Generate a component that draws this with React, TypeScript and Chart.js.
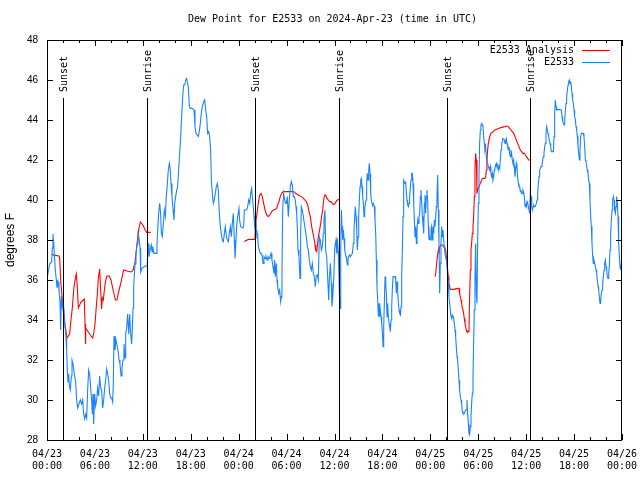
import React, { useEffect, useRef } from "react";
import { Chart, registerables } from "chart.js";

Chart.register(...registerables);

const MONO = '"DejaVu Sans Mono", "Liberation Mono", monospace';
const SANS = '"Liberation Sans", Arial, sans-serif';

const chartTitle = "Dew Point for E2533 on 2024-Apr-23 (time in UTC)";
const yAxisTitle = "degrees F";
const seriesNames = ["E2533 Analysis", "E2533"];
const seriesColors = ["#ff0000", "#1a84ff"];

const xTickLabels = [
  ["04/23", "00:00"], ["04/23", "06:00"], ["04/23", "12:00"], ["04/23", "18:00"],
  ["04/24", "00:00"], ["04/24", "06:00"], ["04/24", "12:00"], ["04/24", "18:00"],
  ["04/25", "00:00"], ["04/25", "06:00"], ["04/25", "12:00"], ["04/25", "18:00"],
  ["04/26", "00:00"],
];

// hours since 04/23 00:00 UTC
const sunEventHours = [2.05, 12.56, 26.1, 36.6, 50.12, 60.52];
const sunEventLabels = ["Sunset", "Sunrise", "Sunset", "Sunrise", "Sunset", "Sunrise"];
const sunLineTopF = 45.1;

// Station observations [hour, dew point F]
const stationDay1 = [
  [0.0, 36.05], [0.33, 36.8], [0.58, 36.9], [0.67, 37.6], [0.75, 38.3], [0.83, 37.9], [0.92, 37.3],
  [1.04, 36.5], [1.17, 36.0], [1.25, 35.6], [1.38, 35.9], [1.5, 35.5], [1.63, 34.9], [1.71, 33.5],
  [1.79, 35.2], [1.92, 34.6], [2.05, 34.9], [2.17, 34.0], [2.3, 33.5], [2.38, 33.1], [2.46, 32.5],
  [2.55, 31.4], [2.63, 30.9], [2.71, 31.3], [2.8, 30.7], [2.92, 30.5], [3.05, 31.2], [3.13, 32.0],
  [3.26, 31.8], [3.42, 31.3], [3.59, 30.9], [3.71, 30.0], [3.84, 29.6], [4.0, 29.8], [4.17, 30.0],
  [4.34, 29.8], [4.47, 30.0], [4.59, 29.3], [4.72, 29.05], [4.84, 29.3], [4.97, 29.1], [5.09, 30.5],
  [5.22, 31.5], [5.34, 31.3], [5.47, 30.6], [5.59, 30.0], [5.68, 29.3], [5.76, 30.3], [5.84, 28.8],
  [5.97, 30.3], [6.09, 29.7], [6.22, 30.0], [6.34, 30.6], [6.47, 30.2], [6.59, 31.2], [6.72, 30.6],
  [6.84, 30.5], [6.97, 29.6], [7.1, 30.0], [7.22, 30.6], [7.35, 31.0], [7.47, 31.55], [7.6, 31.3],
  [7.72, 31.0], [7.85, 30.3], [7.97, 30.1], [8.1, 30.1], [8.22, 29.9], [8.3, 30.8], [8.39, 33.2],
  [8.51, 32.5], [8.64, 33.0], [8.76, 33.0], [8.89, 32.5], [9.02, 32.0], [9.14, 31.8], [9.27, 31.2],
  [9.39, 31.6], [9.52, 32.0], [9.64, 32.8], [9.77, 32.1], [9.85, 33.3], [9.97, 33.6], [10.1, 34.3],
  [10.23, 33.3], [10.35, 34.3], [10.48, 33.3], [10.6, 32.8], [10.68, 33.5], [10.77, 34.6], [10.85, 35.6],
  [10.94, 36.3], [11.02, 36.8], [11.14, 37.3], [11.27, 37.8], [11.39, 38.3], [11.52, 38.1], [11.65, 37.6],
  [11.73, 36.4], [11.9, 36.6], [12.3, 36.7], [12.55, 36.7], [12.65, 37.83], [12.77, 37.17], [12.9, 37.5],
  [13.06, 37.75], [13.15, 37.4], [13.23, 37.67], [13.4, 37.33], [13.65, 37.33], [13.77, 37.75], [13.86, 38.5],
  [13.98, 39.33], [14.11, 39.83], [14.23, 39.33], [14.32, 38.33], [14.44, 38.17], [14.57, 38.83], [14.69, 39.5],
  [14.82, 39.17], [14.94, 40.17], [15.07, 40.83], [15.19, 41.5], [15.32, 41.83], [15.44, 41.5], [15.53, 40.83],
  [15.65, 40.17], [15.78, 39.5], [15.9, 39.0], [15.99, 39.83], [16.11, 40.17], [16.24, 40.5], [16.36, 40.67],
  [16.49, 41.5], [16.61, 42.33], [16.74, 43.17], [16.86, 44.17], [16.99, 45.17], [17.11, 45.75], [17.24, 45.75],
  [17.36, 46.0], [17.49, 46.08], [17.57, 45.9], [17.7, 45.67], [17.82, 44.67], [17.95, 44.58], [18.2, 44.58],
  [18.41, 44.5], [18.53, 43.67], [18.66, 43.33], [18.82, 43.25], [18.95, 43.17], [19.07, 43.42], [19.2, 43.83],
  [19.32, 44.33], [19.45, 44.67], [19.62, 44.92], [19.74, 45.0], [19.87, 44.5], [19.99, 44.17], [20.12, 43.33],
  [20.24, 43.42], [20.37, 43.17], [20.49, 42.5], [20.58, 41.0], [20.7, 40.33], [20.83, 39.83], [20.95, 40.0],
  [21.08, 40.33], [21.2, 40.67], [21.33, 40.83], [21.45, 40.5], [21.58, 39.33], [21.7, 38.67], [21.83, 38.33],
  [21.95, 38.0], [22.08, 37.92], [22.21, 38.33], [22.33, 38.67], [22.46, 38.17], [22.58, 38.0], [22.71, 37.92],
  [22.83, 38.33], [22.96, 38.67], [23.08, 38.17], [23.21, 38.83], [23.33, 39.33], [23.46, 38.0], [23.54, 37.08],
];

const stationDay2 = [
  [23.75, 38.67], [23.87, 39.17], [24.04, 39.58], [24.12, 39.0], [24.25, 38.67], [24.54, 38.6], [24.63, 38.75],
  [24.71, 39.5], [25.0, 39.5], [25.13, 39.67], [25.25, 40.0], [25.38, 39.83], [25.5, 40.33], [25.63, 40.58],
  [25.71, 40.17], [25.84, 39.67], [25.92, 39.17], [26.0, 38.67], [26.13, 38.92], [26.21, 38.5], [26.29, 38.17],
  [26.38, 38.25], [26.46, 37.67], [26.59, 37.5], [26.71, 37.33], [26.84, 37.33], [26.96, 37.17], [27.05, 36.83],
  [27.17, 37.17], [27.3, 37.08], [27.42, 37.17], [27.55, 37.0], [27.67, 37.17], [27.8, 37.08], [27.92, 37.17],
  [28.05, 37.33], [28.17, 37.0], [28.3, 36.67], [28.42, 36.33], [28.51, 37.0], [28.59, 36.17], [28.72, 36.83],
  [28.8, 36.0], [28.88, 35.67], [29.01, 35.33], [29.13, 35.5], [29.26, 34.92], [29.34, 35.17], [29.42, 36.33],
  [29.51, 39.5], [29.63, 40.33], [29.76, 40.0], [29.88, 39.83], [29.97, 39.83], [30.09, 40.17], [30.22, 39.17],
  [30.34, 40.0], [30.47, 40.67], [30.59, 40.92], [30.72, 40.75], [30.84, 40.17], [30.97, 40.17], [31.09, 40.0],
  [31.18, 39.67], [31.26, 39.33], [31.34, 38.67], [31.43, 37.5], [31.55, 37.17], [31.68, 36.08], [31.76, 38.33],
  [31.85, 39.67], [31.97, 39.5], [32.1, 39.17], [32.22, 38.83], [32.35, 38.5], [32.47, 38.17], [32.6, 37.67],
  [32.72, 37.5], [32.85, 37.0], [32.97, 36.67], [33.1, 36.5], [33.22, 36.83], [33.35, 36.33], [33.47, 36.17],
  [33.6, 35.67], [33.72, 36.25], [33.85, 36.25], [33.97, 36.0], [34.1, 38.17], [34.22, 38.0], [34.35, 37.5],
  [34.47, 37.67], [34.6, 38.33], [34.68, 39.0], [34.81, 39.5], [34.89, 37.5], [35.02, 37.17], [35.14, 36.17],
  [35.27, 35.0], [35.35, 36.0], [35.48, 36.83], [35.6, 35.83], [35.68, 34.67], [35.81, 35.33], [35.93, 36.33],
  [36.02, 37.5], [36.11, 37.83], [36.19, 38.0], [36.27, 37.33], [36.36, 38.08], [36.44, 37.5], [36.53, 36.67],
  [36.61, 35.33], [36.69, 34.58], [36.78, 37.5], [36.86, 39.5], [36.94, 38.67], [37.03, 38.0], [37.11, 38.5],
  [37.19, 38.08], [37.28, 37.5], [37.36, 37.33], [37.44, 37.17], [37.53, 37.0], [37.61, 36.75], [37.69, 37.0],
  [37.78, 37.17], [37.86, 37.25], [37.99, 37.17], [38.11, 37.25], [38.24, 37.33], [38.36, 37.83], [38.44, 38.5],
  [38.53, 39.17], [38.61, 39.67], [38.7, 39.17], [38.78, 38.5], [38.86, 37.5], [38.95, 38.17], [39.03, 39.17],
  [39.11, 40.0], [39.2, 40.67], [39.28, 41.0], [39.36, 41.08], [39.45, 40.67], [39.53, 40.17], [39.61, 39.83],
  [39.7, 39.17], [39.78, 39.5], [39.86, 39.83], [39.95, 40.0], [40.03, 40.83], [40.11, 41.33], [40.2, 41.0],
  [40.28, 41.5], [40.36, 41.83], [40.45, 41.33], [40.53, 40.33], [40.61, 40.0], [40.7, 39.83], [40.78, 39.75],
  [40.87, 39.83], [40.99, 39.67], [41.07, 39.0], [41.16, 38.33], [41.24, 37.0], [41.32, 35.67], [41.41, 35.0],
  [41.49, 34.17], [41.58, 34.83], [41.66, 34.17], [41.74, 34.5], [41.83, 34.17], [41.91, 33.83], [41.99, 33.42],
  [42.08, 32.67], [42.16, 33.67], [42.24, 34.83], [42.33, 36.17], [42.41, 35.83], [42.49, 35.33], [42.58, 34.17],
  [42.66, 34.83], [42.74, 34.17], [42.83, 33.83], [42.91, 33.67], [42.99, 33.42], [43.08, 34.0], [43.16, 34.67],
  [43.24, 35.5], [43.33, 36.17], [43.58, 36.17], [43.66, 36.0], [43.75, 35.33], [43.83, 35.92], [43.91, 35.5],
  [44.0, 34.83], [44.08, 34.5], [44.16, 34.33], [44.25, 34.25], [44.33, 34.67], [44.41, 36.17], [44.5, 37.5],
  [44.58, 39.17], [44.66, 41.0], [44.83, 40.83], [44.91, 40.92], [45.0, 40.33], [45.08, 40.0], [45.16, 39.75],
  [45.25, 39.67], [45.33, 39.83], [45.41, 40.17], [45.5, 40.67], [45.58, 41.0], [45.67, 41.33], [45.75, 41.33],
  [45.83, 40.83], [45.92, 39.83], [46.0, 39.0], [46.08, 38.17], [46.17, 38.67], [46.25, 37.83], [46.33, 38.5],
  [46.42, 39.0], [46.5, 38.83], [46.58, 39.17], [46.67, 39.33], [46.75, 40.17], [46.83, 40.5], [46.92, 39.83],
  [47.0, 39.17], [47.08, 38.83], [47.17, 38.33], [47.25, 39.83], [47.33, 40.25],
];

const stationDay3 = [
  [47.41, 39.33], [47.5, 40.17], [47.58, 40.5], [47.66, 40.0], [47.75, 38.67], [47.83, 38.0], [47.91, 38.17],
  [48.0, 38.0], [48.08, 38.5], [48.16, 38.67], [48.25, 38.0], [48.33, 38.67], [48.42, 38.33], [48.5, 39.0],
  [48.58, 38.67], [48.67, 39.17], [48.75, 39.67], [48.83, 40.17], [48.92, 41.25], [49.0, 39.5], [49.08, 37.83],
  [49.17, 35.33], [49.25, 36.83], [49.33, 37.83], [49.42, 38.67], [49.5, 38.17], [49.58, 38.5], [49.67, 38.0],
  [49.75, 37.67], [49.83, 37.33], [49.92, 37.17], [50.0, 37.0], [50.08, 36.83], [50.17, 36.17], [50.25, 35.83],
  [50.33, 35.17], [50.42, 34.83], [50.5, 34.5], [50.59, 34.17], [50.67, 34.08], [50.75, 34.25], [50.84, 34.17],
  [50.92, 34.08], [51.0, 33.83], [51.09, 33.5], [51.17, 33.17], [51.25, 32.67], [51.34, 32.17], [51.42, 32.0],
  [51.5, 31.5], [51.59, 31.0], [51.67, 30.5], [51.75, 30.17], [51.84, 30.0], [51.92, 29.83], [52.0, 29.42],
  [52.09, 29.33], [52.25, 29.33], [52.42, 29.5], [52.5, 29.5], [52.59, 30.0], [52.67, 29.33], [52.76, 28.83],
  [52.84, 28.33], [52.92, 28.25], [53.01, 28.67], [53.09, 29.17], [53.17, 29.83], [53.26, 30.33], [53.34, 31.17],
  [53.42, 32.83], [53.51, 34.5], [53.59, 36.17], [53.67, 37.83], [53.76, 35.33], [53.84, 34.83], [53.92, 37.83],
  [54.01, 39.83], [54.09, 41.17], [54.17, 42.83], [54.26, 43.5], [54.34, 43.75], [54.43, 43.83], [54.51, 43.75],
  [54.59, 43.67], [54.68, 43.17], [54.76, 42.83], [54.84, 42.5], [54.93, 42.67], [55.01, 42.17], [55.09, 41.92],
  [55.18, 41.83], [55.26, 41.67], [55.34, 41.58], [55.43, 41.5], [55.51, 41.67], [55.59, 41.33], [55.68, 41.17],
  [55.76, 41.33], [55.84, 41.0], [55.93, 41.17], [56.01, 41.5], [56.09, 41.58], [56.18, 41.75], [56.26, 41.83],
  [56.34, 41.67], [56.43, 41.75], [56.51, 41.5], [56.6, 41.67], [56.68, 41.58], [56.76, 42.0], [56.85, 42.5],
  [56.93, 42.83], [57.01, 42.92], [57.1, 43.08], [57.18, 43.08], [57.26, 43.0], [57.35, 42.83], [57.43, 43.0],
  [57.51, 43.08], [57.6, 42.83], [57.68, 42.67], [57.76, 42.5], [57.85, 42.67], [57.93, 42.33], [58.01, 42.17],
  [58.1, 42.5], [58.18, 42.33], [58.26, 42.0], [58.35, 41.83], [58.43, 42.0], [58.52, 41.67], [58.6, 41.17],
  [58.68, 41.5], [58.77, 41.83], [58.85, 41.67], [58.93, 41.17], [59.02, 40.83], [59.1, 40.67], [59.18, 40.67],
  [59.27, 40.42], [59.35, 40.5], [59.43, 40.33], [59.52, 40.33], [59.6, 40.5], [59.68, 40.42], [59.77, 40.17],
  [59.86, 39.67], [59.94, 39.83], [60.02, 39.67], [60.11, 39.92], [60.19, 39.83], [60.27, 39.67], [60.36, 39.5],
  [60.44, 39.33], [60.52, 40.33], [60.61, 40.17], [60.69, 39.67], [60.77, 39.5], [60.86, 39.67], [60.94, 39.75],
  [61.02, 39.67], [61.15, 39.67], [61.27, 39.83], [61.36, 40.0], [61.44, 40.33], [61.53, 40.83], [61.61, 41.17],
  [61.69, 41.5], [61.78, 41.58], [61.86, 41.67], [61.98, 41.75], [62.07, 42.0], [62.15, 42.17], [62.23, 42.33],
  [62.32, 42.67], [62.4, 42.83], [62.48, 43.33], [62.57, 43.67], [62.65, 43.5], [62.74, 43.33], [62.82, 43.17],
  [62.9, 43.0], [62.99, 42.83], [63.07, 42.67], [63.15, 42.42], [63.4, 42.42], [63.49, 43.17], [63.57, 44.33],
  [63.65, 45.0], [63.74, 44.67], [63.82, 44.5], [64.07, 44.53], [64.4, 44.5], [64.49, 44.17], [64.57, 43.92],
  [64.66, 43.83], [64.74, 43.75], [64.82, 44.0], [64.91, 44.5], [64.99, 44.83], [65.07, 45.17], [65.16, 45.5],
  [65.24, 45.75], [65.32, 45.92], [65.41, 46.0], [65.49, 45.83], [65.57, 45.92], [65.66, 45.67], [65.74, 45.33],
  [65.82, 45.0], [65.91, 44.83], [65.99, 44.5], [66.07, 44.17], [66.16, 44.0], [66.24, 43.67], [66.32, 43.5],
  [66.41, 43.17], [66.49, 42.67], [66.58, 42.33], [66.66, 42.0], [66.74, 42.5], [66.83, 43.17], [66.91, 43.33],
  [67.16, 43.33], [67.24, 43.17], [67.33, 42.67], [67.41, 42.0], [67.49, 41.92], [67.58, 41.67], [67.66, 41.5],
  [67.74, 41.33], [67.83, 41.0], [67.91, 40.83], [67.99, 40.0], [68.08, 39.17], [68.16, 38.67], [68.24, 37.83],
  [68.33, 37.17], [68.41, 36.83], [68.49, 37.0], [68.58, 36.83], [68.66, 36.67], [68.75, 36.5], [68.83, 36.33],
  [68.91, 36.0], [69.0, 35.67], [69.08, 35.5], [69.16, 35.17], [69.25, 34.83], [69.33, 35.0], [69.41, 35.33],
  [69.5, 35.5], [69.58, 35.83], [69.66, 36.17], [69.75, 36.5], [69.83, 36.83], [69.91, 37.0], [70.0, 36.67],
  [70.08, 36.5], [70.16, 36.17], [70.25, 36.08], [70.33, 36.33], [70.41, 36.67], [70.5, 37.5], [70.58, 38.33],
  [70.67, 39.0], [70.75, 39.5], [70.83, 40.0], [70.92, 40.17], [71.0, 40.0], [71.08, 39.5], [71.17, 39.33],
  [71.25, 39.67], [71.33, 40.17], [71.42, 39.83], [71.5, 39.17], [71.58, 37.83], [71.67, 37.17], [71.75, 36.67],
  [71.83, 36.5], [71.92, 36.83], [72.0, 36.4],
];

// Analysis [hour, dew point F]
const analysisDay1 = [
  [0.58, 37.27], [1.5, 37.2], [1.59, 37.1], [1.71, 36.0], [1.92, 35.0], [2.09, 34.5], [2.25, 33.8],
  [2.5, 33.1], [2.67, 33.2], [2.84, 33.3], [3.0, 34.0], [3.17, 34.6], [3.34, 35.5], [3.5, 36.0],
  [3.67, 36.3], [3.8, 35.6], [3.92, 34.6], [4.26, 34.9], [4.67, 35.05], [4.76, 33.8], [4.8, 32.8],
  [4.88, 33.6], [5.18, 33.4], [5.51, 33.2], [5.72, 33.1], [5.88, 33.4], [6.01, 33.8], [6.14, 34.5],
  [6.3, 35.3], [6.43, 36.1], [6.59, 36.55], [6.72, 35.5], [6.84, 34.55], [6.93, 35.1], [7.05, 35.0],
  [7.18, 35.5], [7.35, 36.0], [7.51, 36.2], [7.8, 36.2], [8.01, 36.0], [8.22, 35.6], [8.39, 35.3],
  [8.56, 35.0], [8.76, 35.0], [9.02, 35.5], [9.22, 35.8], [9.43, 36.2], [9.6, 36.5], [10.02, 36.45],
  [10.52, 36.4], [10.73, 36.45], [10.85, 36.6], [11.02, 36.9], [11.19, 37.5], [11.35, 38.1], [11.52, 38.6],
  [11.69, 38.9], [11.9, 38.8], [12.1, 38.67], [12.3, 38.5], [12.48, 38.38], [12.98, 38.38],
];

const analysisDay2 = [
  [24.71, 37.92], [25.21, 38.03], [25.96, 38.03], [26.04, 38.17], [26.13, 38.67], [26.17, 39.0], [26.3, 39.33],
  [26.46, 39.83], [26.63, 40.25], [26.8, 40.33], [26.96, 40.17], [27.13, 39.83], [27.3, 39.5], [27.5, 39.25],
  [27.71, 39.17], [27.92, 39.25], [28.13, 39.42], [28.34, 39.5], [28.55, 39.53], [28.76, 39.58], [28.88, 39.75],
  [29.05, 39.92], [29.21, 40.17], [29.38, 40.33], [29.59, 40.42], [30.0, 40.42], [30.84, 40.42], [31.05, 40.37],
  [31.26, 40.3], [31.47, 40.25], [31.68, 40.2], [31.89, 40.17], [32.1, 40.08], [32.3, 40.0], [32.47, 39.92],
  [32.64, 39.75], [32.81, 39.42], [32.97, 39.17], [33.14, 38.67], [33.31, 38.33], [33.47, 38.0], [33.56, 37.75],
  [33.64, 37.5], [33.77, 37.42], [33.85, 37.67], [33.97, 38.17], [34.1, 38.42], [34.27, 38.83], [34.39, 39.17],
  [34.52, 39.5], [34.64, 40.0], [34.77, 40.25], [34.89, 40.25], [35.06, 40.08], [35.23, 40.0], [35.39, 39.92],
  [35.56, 39.92], [35.73, 39.83], [35.86, 39.77], [36.02, 39.8], [36.27, 39.97], [36.48, 40.03], [36.69, 40.0],
];

const analysisDay3 = [
  [48.58, 36.17], [48.67, 36.33], [48.83, 37.0], [49.0, 37.5], [49.08, 37.33], [49.17, 37.67], [49.33, 37.75],
  [49.5, 37.75], [49.67, 37.67], [49.83, 37.58], [49.92, 37.5], [50.0, 37.17], [50.08, 36.83], [50.17, 36.5],
  [50.25, 36.17], [50.33, 35.83], [50.42, 35.67], [50.5, 35.53], [50.92, 35.53], [51.42, 35.58], [51.59, 35.58],
  [51.67, 35.33], [51.75, 35.17], [51.84, 35.0], [51.92, 34.83], [52.0, 34.58], [52.09, 34.5], [52.17, 34.33],
  [52.25, 34.08], [52.34, 33.83], [52.42, 33.67], [52.5, 33.5], [52.59, 33.42], [52.76, 33.42], [52.84, 33.5],
  [52.92, 35.17], [53.01, 36.5], [53.09, 37.5], [53.17, 37.83], [53.26, 38.33], [53.34, 38.67], [53.42, 39.17],
  [53.51, 40.17], [53.59, 41.58], [53.67, 42.33], [53.76, 42.0], [53.84, 40.33], [53.92, 40.5], [54.09, 40.67],
  [54.26, 40.83], [54.43, 41.0], [54.59, 41.08], [54.84, 41.08], [54.93, 41.17], [55.01, 41.5], [55.09, 42.0],
  [55.18, 42.5], [55.26, 42.83], [55.43, 43.17], [55.59, 43.33], [55.84, 43.42], [56.09, 43.5], [56.51, 43.58],
  [56.93, 43.63], [57.35, 43.67], [57.6, 43.7], [57.76, 43.67], [57.93, 43.58], [58.1, 43.5], [58.26, 43.42],
  [58.43, 43.33], [58.6, 43.17], [58.77, 43.0], [58.93, 42.83], [59.1, 42.67], [59.27, 42.5], [59.43, 42.42],
  [59.6, 42.33], [59.77, 42.33], [59.9, 42.25], [60.11, 42.13], [60.31, 42.0], [60.65, 42.0],
];

const toPoints = (arr: number[][]) => arr.map(([x, y]) => ({ x, y }));

const framePlugin = {
  id: "gnuplotFrame",
  afterDatasetsDraw(chart: any) {
    const ctx = chart.ctx;
    const xs = chart.scales.x;
    const ys = chart.scales.y;
    const { bottom } = chart.chartArea;
    ctx.save();
    ctx.strokeStyle = "#000";
    ctx.fillStyle = "#000";
    ctx.lineWidth = 1;
    const yTop = Math.round(ys.getPixelForValue(sunLineTopF));
    sunEventHours.forEach((h, i) => {
      const px = Math.round(xs.getPixelForValue(h)) + 0.5;
      ctx.beginPath();
      ctx.moveTo(px, bottom);
      ctx.lineTo(px, yTop);
      ctx.stroke();
      ctx.save();
      ctx.translate(px + 1, yTop - 6);
      ctx.rotate(-Math.PI / 2);
      ctx.font = `10px ${MONO}`;
      ctx.textAlign = "left";
      ctx.textBaseline = "middle";
      ctx.fillText(sunEventLabels[i], 0, 0);
      ctx.restore();
    });
    ctx.restore();
  },
  afterDraw(chart: any) {
    const ctx = chart.ctx;
    const xs = chart.scales.x;
    const ys = chart.scales.y;
    const { left, right, top, bottom } = chart.chartArea;
    ctx.save();
    ctx.strokeStyle = "#000";
    ctx.fillStyle = "#000";
    ctx.lineWidth = 1;
    // border
    ctx.strokeRect(left + 0.5, top + 0.5, right - left - 1, bottom - top);
    // x ticks (major every 6h, minor every 2h), inward, mirrored
    ctx.beginPath();
    for (let h = 0; h <= 72; h += 2) {
      const px = Math.round(xs.getPixelForValue(h)) + 0.5;
      const len = h % 6 === 0 ? 6 : 3;
      ctx.moveTo(px, bottom);
      ctx.lineTo(px, bottom - len);
      ctx.moveTo(px, top);
      ctx.lineTo(px, top + len);
    }
    for (let v = 28; v <= 48; v += 2) {
      const py = Math.round(ys.getPixelForValue(v)) + 0.5;
      ctx.moveTo(left, py);
      ctx.lineTo(left + 6, py);
      ctx.moveTo(right, py);
      ctx.lineTo(right - 6, py);
    }
    ctx.stroke();
    // title
    ctx.font = `10px ${MONO}`;
    ctx.textAlign = "center";
    ctx.textBaseline = "middle";
    ctx.fillText(chartTitle, (left + right) / 2 - 2, 19);
    // y title
    ctx.save();
    ctx.translate(11, (top + bottom) / 2);
    ctx.rotate(-Math.PI / 2);
    ctx.font = `12px ${SANS}`;
    ctx.textAlign = "center";
    ctx.textBaseline = "middle";
    ctx.fillText(yAxisTitle, 0, 0);
    ctx.restore();
    // legend
    ctx.font = `10px ${MONO}`;
    ctx.textAlign = "right";
    ctx.textBaseline = "middle";
    seriesNames.forEach((name, i) => {
      const y = top + 10 + i * 12;
      ctx.fillStyle = "#000";
      ctx.fillText(name, right - 48, y);
      ctx.strokeStyle = seriesColors[i];
      ctx.beginPath();
      ctx.moveTo(right - 40, y + 0.5);
      ctx.lineTo(right - 12, y + 0.5);
      ctx.stroke();
    });
    ctx.restore();
  },
};

export default function App() {
  const ref = useRef<HTMLCanvasElement>(null);
  useEffect(() => {
    document.body.style.margin = "0";
    const canvas = ref.current;
    if (!canvas) return;
    const analysisPoints = [
      ...toPoints(analysisDay1),
      { x: 18, y: null },
      ...toPoints(analysisDay2),
      { x: 42, y: null },
      ...toPoints(analysisDay3),
    ];
    const stationPoints = toPoints([...stationDay1, ...stationDay2, ...stationDay3]);
    const chart = new Chart(canvas, {
      type: "line",
      data: {
        datasets: [
          {
            label: seriesNames[0],
            data: analysisPoints as any,
            borderColor: seriesColors[0],
            borderWidth: 1.1,
            pointRadius: 0,
            tension: 0,
            spanGaps: false,
            order: 2,
          },
          {
            label: seriesNames[1],
            data: stationPoints as any,
            borderColor: seriesColors[1],
            borderWidth: 1.1,
            pointRadius: 0,
            tension: 0,
            order: 1,
          },
        ],
      },
      options: {
        responsive: false,
        animation: false,
        devicePixelRatio: 1,
        layout: { padding: { top: 40, right: 18, left: 0, bottom: 0 } },
        plugins: { legend: { display: false }, title: { display: false }, tooltip: { enabled: false } },
        scales: {
          x: {
            type: "linear",
            min: 0,
            max: 72,
            grid: { display: false, drawTicks: false },
            border: { display: false },
            afterFit: (s: any) => {
              s.height = 40;
              s.paddingLeft = 0;
              s.paddingRight = 0;
            },
            ticks: {
              stepSize: 6,
              autoSkip: false,
              maxRotation: 0,
              padding: 8,
              color: "#000",
              font: { family: MONO, size: 10, lineHeight: 1.2 },
              callback: (v: any) => xTickLabels[Math.round(Number(v) / 6)] ?? "",
            },
          },
          y: {
            min: 28,
            max: 48,
            grid: { display: false, drawTicks: false },
            border: { display: false },
            afterFit: (s: any) => {
              s.width = 47;
              s.paddingTop = 0;
              s.paddingBottom = 0;
            },
            ticks: {
              stepSize: 2,
              padding: 9,
              color: "#000",
              font: { family: SANS, size: 10 },
            },
          },
        },
      },
      plugins: [framePlugin],
    });
    return () => chart.destroy();
  }, []);
  return (
    <div style={{ width: 640, height: 480 }}>
      <canvas ref={ref} width={640} height={480} style={{ display: "block" }} />
    </div>
  );
}
